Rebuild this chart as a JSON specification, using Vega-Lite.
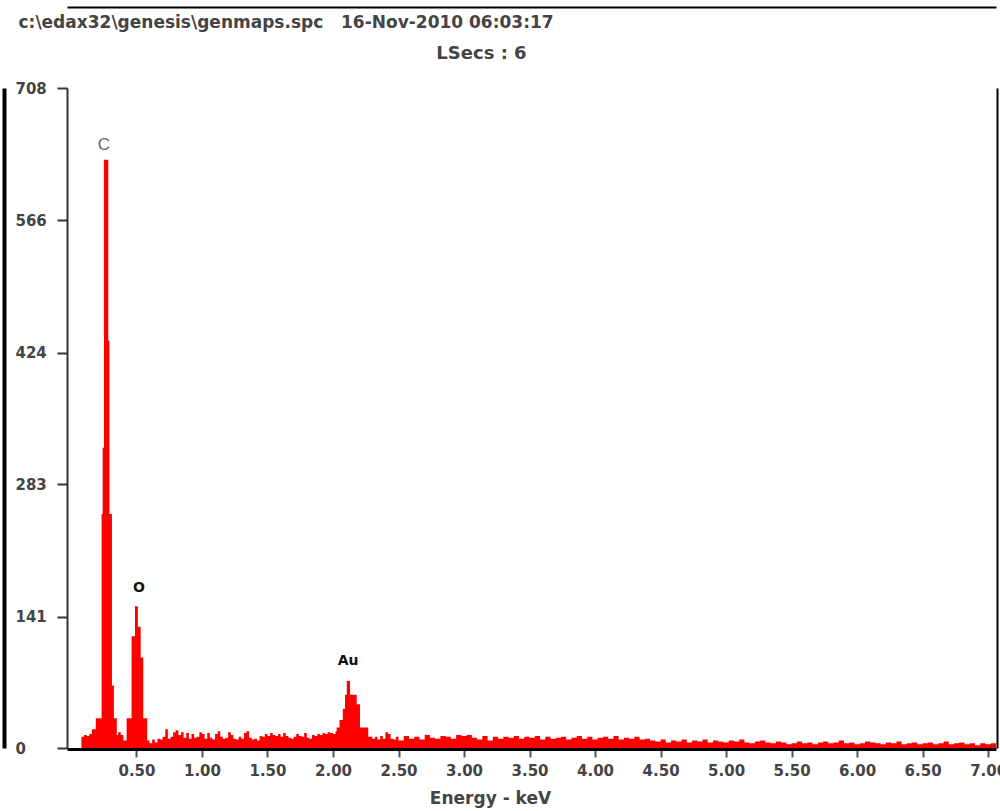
{
  "$schema": "https://vega.github.io/schema/vega-lite/v6.json",
  "width": 929,
  "height": 660,
  "autosize": {"type": "none"},
  "padding": {"left": 67, "top": 88, "right": 4, "bottom": 63},
  "background": "white",
  "config": {"view": {"stroke": null}, "font": "DejaVu Sans"},
  "datasets": {
    "spectrum": [
      {"e": 0.08, "c": 12}, {"e": 0.10, "c": 14}, {"e": 0.12, "c": 13}, {"e": 0.14, "c": 15},
      {"e": 0.16, "c": 20}, {"e": 0.19, "c": 32}, {"e": 0.234, "c": 251}, {"e": 0.242, "c": 322},
      {"e": 0.252, "c": 631}, {"e": 0.285, "c": 437}, {"e": 0.294, "c": 251}, {"e": 0.313, "c": 67},
      {"e": 0.328, "c": 32}, {"e": 0.35, "c": 14}, {"e": 0.36, "c": 17}, {"e": 0.38, "c": 14},
      {"e": 0.40, "c": 8}, {"e": 0.425, "c": 32}, {"e": 0.463, "c": 120}, {"e": 0.489, "c": 152},
      {"e": 0.511, "c": 130}, {"e": 0.532, "c": 97}, {"e": 0.552, "c": 32}, {"e": 0.582, "c": 8},
      {"e": 0.60, "c": 5}, {"e": 0.62, "c": 9}, {"e": 0.64, "c": 6}, {"e": 0.66, "c": 10},
      {"e": 0.68, "c": 9}, {"e": 0.70, "c": 12}, {"e": 0.72, "c": 20}, {"e": 0.74, "c": 10},
      {"e": 0.76, "c": 12}, {"e": 0.78, "c": 17}, {"e": 0.80, "c": 19}, {"e": 0.82, "c": 14},
      {"e": 0.84, "c": 17}, {"e": 0.86, "c": 11}, {"e": 0.88, "c": 16}, {"e": 0.90, "c": 10},
      {"e": 0.92, "c": 15}, {"e": 0.94, "c": 11}, {"e": 0.96, "c": 12}, {"e": 0.98, "c": 17},
      {"e": 1.00, "c": 15}, {"e": 1.02, "c": 10}, {"e": 1.04, "c": 16}, {"e": 1.06, "c": 11},
      {"e": 1.08, "c": 9}, {"e": 1.10, "c": 15}, {"e": 1.12, "c": 18}, {"e": 1.14, "c": 12},
      {"e": 1.16, "c": 10}, {"e": 1.18, "c": 11}, {"e": 1.20, "c": 17}, {"e": 1.22, "c": 14},
      {"e": 1.24, "c": 10}, {"e": 1.26, "c": 9}, {"e": 1.28, "c": 12}, {"e": 1.30, "c": 10},
      {"e": 1.32, "c": 16}, {"e": 1.34, "c": 18}, {"e": 1.36, "c": 11}, {"e": 1.38, "c": 9},
      {"e": 1.40, "c": 10}, {"e": 1.42, "c": 8}, {"e": 1.44, "c": 13}, {"e": 1.46, "c": 12},
      {"e": 1.48, "c": 15}, {"e": 1.50, "c": 13}, {"e": 1.52, "c": 16}, {"e": 1.54, "c": 14},
      {"e": 1.56, "c": 13}, {"e": 1.58, "c": 15}, {"e": 1.60, "c": 12}, {"e": 1.62, "c": 16},
      {"e": 1.64, "c": 13}, {"e": 1.66, "c": 11}, {"e": 1.68, "c": 10}, {"e": 1.70, "c": 12},
      {"e": 1.72, "c": 15}, {"e": 1.74, "c": 13}, {"e": 1.76, "c": 12}, {"e": 1.78, "c": 16},
      {"e": 1.80, "c": 11}, {"e": 1.82, "c": 10}, {"e": 1.84, "c": 14}, {"e": 1.86, "c": 13},
      {"e": 1.88, "c": 15}, {"e": 1.90, "c": 14}, {"e": 1.92, "c": 16}, {"e": 1.94, "c": 15},
      {"e": 1.96, "c": 17}, {"e": 1.98, "c": 16}, {"e": 2.00, "c": 15}, {"e": 2.02, "c": 18},
      {"e": 2.028, "c": 22}, {"e": 2.05, "c": 30}, {"e": 2.075, "c": 42}, {"e": 2.092, "c": 57},
      {"e": 2.105, "c": 72}, {"e": 2.13, "c": 57}, {"e": 2.181, "c": 47}, {"e": 2.206, "c": 22},
      {"e": 2.269, "c": 12}, {"e": 2.30, "c": 10}, {"e": 2.32, "c": 12}, {"e": 2.34, "c": 9},
      {"e": 2.36, "c": 13}, {"e": 2.38, "c": 10}, {"e": 2.40, "c": 17}, {"e": 2.42, "c": 15},
      {"e": 2.44, "c": 10}, {"e": 2.46, "c": 9}, {"e": 2.48, "c": 12}, {"e": 2.50, "c": 8},
      {"e": 2.54, "c": 13}, {"e": 2.58, "c": 10}, {"e": 2.62, "c": 12}, {"e": 2.66, "c": 9},
      {"e": 2.70, "c": 14}, {"e": 2.74, "c": 11}, {"e": 2.78, "c": 10}, {"e": 2.82, "c": 13},
      {"e": 2.86, "c": 12}, {"e": 2.90, "c": 10}, {"e": 2.94, "c": 14}, {"e": 2.98, "c": 13},
      {"e": 3.02, "c": 14}, {"e": 3.06, "c": 11}, {"e": 3.10, "c": 9}, {"e": 3.14, "c": 13},
      {"e": 3.18, "c": 8}, {"e": 3.22, "c": 12}, {"e": 3.26, "c": 10}, {"e": 3.30, "c": 12},
      {"e": 3.34, "c": 11}, {"e": 3.38, "c": 13}, {"e": 3.42, "c": 10}, {"e": 3.46, "c": 12},
      {"e": 3.50, "c": 11}, {"e": 3.54, "c": 13}, {"e": 3.58, "c": 9}, {"e": 3.62, "c": 12},
      {"e": 3.66, "c": 10}, {"e": 3.70, "c": 11}, {"e": 3.74, "c": 12}, {"e": 3.78, "c": 9},
      {"e": 3.82, "c": 11}, {"e": 3.86, "c": 13}, {"e": 3.90, "c": 10}, {"e": 3.94, "c": 12},
      {"e": 3.98, "c": 9}, {"e": 4.02, "c": 11}, {"e": 4.06, "c": 12}, {"e": 4.10, "c": 10},
      {"e": 4.14, "c": 13}, {"e": 4.18, "c": 9}, {"e": 4.22, "c": 11}, {"e": 4.26, "c": 10},
      {"e": 4.30, "c": 12}, {"e": 4.34, "c": 9}, {"e": 4.38, "c": 10}, {"e": 4.42, "c": 8},
      {"e": 4.46, "c": 7}, {"e": 4.50, "c": 9}, {"e": 4.54, "c": 6}, {"e": 4.58, "c": 8},
      {"e": 4.62, "c": 7}, {"e": 4.66, "c": 9}, {"e": 4.70, "c": 6}, {"e": 4.74, "c": 8},
      {"e": 4.78, "c": 7}, {"e": 4.82, "c": 9}, {"e": 4.86, "c": 6}, {"e": 4.90, "c": 8},
      {"e": 4.94, "c": 7}, {"e": 4.98, "c": 6}, {"e": 5.02, "c": 8}, {"e": 5.06, "c": 7},
      {"e": 5.10, "c": 9}, {"e": 5.14, "c": 6}, {"e": 5.18, "c": 5}, {"e": 5.22, "c": 7},
      {"e": 5.26, "c": 8}, {"e": 5.30, "c": 6}, {"e": 5.34, "c": 5}, {"e": 5.38, "c": 7},
      {"e": 5.42, "c": 6}, {"e": 5.46, "c": 4}, {"e": 5.50, "c": 5}, {"e": 5.54, "c": 7},
      {"e": 5.58, "c": 5}, {"e": 5.62, "c": 6}, {"e": 5.66, "c": 4}, {"e": 5.70, "c": 6},
      {"e": 5.74, "c": 7}, {"e": 5.78, "c": 5}, {"e": 5.82, "c": 6}, {"e": 5.86, "c": 8},
      {"e": 5.90, "c": 5}, {"e": 5.94, "c": 6}, {"e": 5.98, "c": 4}, {"e": 6.02, "c": 5},
      {"e": 6.06, "c": 7}, {"e": 6.10, "c": 6}, {"e": 6.14, "c": 5}, {"e": 6.18, "c": 4},
      {"e": 6.22, "c": 6}, {"e": 6.26, "c": 5}, {"e": 6.30, "c": 7}, {"e": 6.34, "c": 4},
      {"e": 6.38, "c": 5}, {"e": 6.42, "c": 6}, {"e": 6.46, "c": 4}, {"e": 6.50, "c": 5},
      {"e": 6.54, "c": 6}, {"e": 6.58, "c": 4}, {"e": 6.62, "c": 5}, {"e": 6.66, "c": 7},
      {"e": 6.70, "c": 4}, {"e": 6.74, "c": 5}, {"e": 6.78, "c": 6}, {"e": 6.82, "c": 4},
      {"e": 6.86, "c": 5}, {"e": 6.90, "c": 3}, {"e": 6.94, "c": 5}, {"e": 6.98, "c": 4},
      {"e": 7.02, "c": 5}, {"e": 7.06, "c": 5}
    ],
    "peaks": [
      {"e": 0.252, "c": 647, "label": "C"},
      {"e": 0.519, "c": 172, "label": "O"},
      {"e": 2.115, "c": 93, "label": "Au"}
    ]
  },
  "layer": [
    {
      "data": {"name": "spectrum"},
      "mark": {"type": "area", "interpolate": "step-after", "color": "#ff0000"},
      "encoding": {
        "x": {
          "field": "e", "type": "quantitative",
          "scale": {"domain": [-0.03, 7.06], "nice": false, "zero": false},
          "axis": {
            "orient": "bottom", "values": [0.5, 1, 1.5, 2, 2.5, 3, 3.5, 4, 4.5, 5, 5.5, 6, 6.5, 7],
            "format": ".2f", "offset": 1, "grid": false,
            "domainColor": "#000", "domainWidth": 3,
            "tickSize": 8, "tickColor": "#555", "tickWidth": 2,
            "labelPadding": 6, "labelFont": "DejaVu Sans", "labelFontSize": 15, "labelFontWeight": "bold",
            "labelColor": "#444", "labelFlush": false, "labelBaseline": "top",
            "title": "Energy - keV", "titleX": 423, "titleY": 49, "titleAlign": "center",
            "titleBaseline": "middle", "titleFont": "DejaVu Sans", "titleFontSize": 17,
            "titleFontWeight": "bold", "titleColor": "#444"
          }
        },
        "y": {
          "field": "c", "type": "quantitative",
          "scale": {"domain": [0, 708], "nice": false},
          "axis": {
            "orient": "left", "values": [0, 141, 283, 424, 566, 708], "grid": false,
            "domainColor": "#333", "domainWidth": 2,
            "tickSize": 10, "tickColor": "#333", "tickWidth": 2,
            "labelAlign": "left", "labelBaseline": "middle", "labelPadding": 42,
            "labelFont": "DejaVu Sans", "labelFontSize": 15, "labelFontWeight": "bold", "labelColor": "#444",
            "title": "c:\\edax32\\genesis\\genmaps.spc\u00a0\u00a0 16-Nov-2010 06:03:17",
            "titleAngle": 0, "titleAlign": "left", "titleBaseline": "middle",
            "titleX": -49, "titleY": -66, "titleFont": "DejaVu Sans", "titleFontSize": 17,
            "titleFontWeight": "bold", "titleColor": "#444"
          }
        }
      }
    },
    {
      "data": {"name": "peaks"},
      "transform": [{"filter": "datum.label === 'C'"}],
      "mark": {"type": "text", "font": "Liberation Sans", "fontSize": 17, "color": "#666", "baseline": "middle", "align": "center"},
      "encoding": {
        "x": {
          "field": "e", "type": "quantitative",
          "axis": {
            "orient": "top", "offset": 81, "grid": false, "ticks": false, "labels": false,
            "domainColor": "#000", "domainWidth": 2,
            "title": "LSecs : 6", "titleX": 414, "titleY": 46, "titleAlign": "center",
            "titleBaseline": "middle", "titleFont": "DejaVu Sans", "titleFontSize": 18,
            "titleFontWeight": "bold", "titleColor": "#444"
          }
        },
        "y": {
          "field": "c", "type": "quantitative",
          "axis": {
            "orient": "right", "offset": 1, "grid": false, "ticks": false, "labels": false,
            "domainColor": "#000", "domainWidth": 2, "title": null
          }
        },
        "text": {"field": "label"}
      }
    },
    {
      "data": {"name": "peaks"},
      "transform": [{"filter": "datum.label !== 'C'"}],
      "mark": {"type": "text", "font": "DejaVu Sans", "fontSize": 14, "fontWeight": "bold", "color": "#111", "baseline": "middle", "align": "center"},
      "encoding": {
        "x": {"field": "e", "type": "quantitative", "axis": null},
        "y": {
          "field": "c", "type": "quantitative",
          "axis": {
            "orient": "left", "offset": 63, "grid": false, "ticks": false, "labels": false,
            "domainColor": "#000", "domainWidth": 4, "title": null
          }
        },
        "text": {"field": "label"}
      }
    }
  ],
  "resolve": {"axis": {"x": "independent", "y": "independent"}}
}
